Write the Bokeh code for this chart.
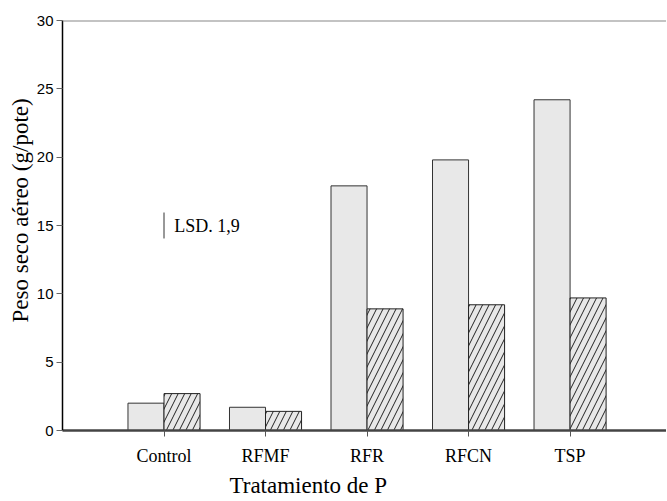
import numpy as np
from bokeh.plotting import figure
from bokeh.models import ColumnDataSource, FixedTicker, Span, Label, Title
from bokeh.embed import file_html
from bokeh.resources import INLINE

categories = ["Control", "RFMF", "RFR", "RFCN", "TSP"]
series_plain = [2.0, 1.7, 17.9, 19.8, 24.2]
series_hatched = [2.7, 1.4, 8.9, 9.2, 9.7]
y_ticks = [0, 5, 10, 15, 20, 25, 30]
lsd_value = 1.9
lsd_text = "LSD. 1,9"
x_title = "Tratamiento de P"
y_title = "Peso seco aéreo (g/pote)"

pos = np.arange(1, len(categories) + 1)
bw = 0.355

p = figure(width=666, height=500, x_range=(0, 5.95), y_range=(0, 30),
           output_backend="svg", toolbar_location=None,
           min_border_left=62, min_border_right=0, min_border_top=20,
           min_border_bottom=70)
p.outline_line_color = None
p.xgrid.visible = False
p.ygrid.visible = False
p.background_fill_color = "white"

src1 = ColumnDataSource(dict(x=pos - bw / 2, top=series_plain))
src2 = ColumnDataSource(dict(x=pos + bw / 2, top=series_hatched))
p.vbar(x="x", top="top", bottom=0, width=bw, source=src1,
       fill_color="#e8e8e8", line_color="#333333", line_width=1)
p.vbar(x="x", top="top", bottom=0, width=bw, source=src2,
       fill_color="#e8e8e8", line_color="#222222", line_width=1,
       hatch_pattern="/", hatch_color="#222222", hatch_scale=13, hatch_weight=1)

# top border line
p.add_layout(Span(location=30, dimension="width", line_color="#888888", line_width=2))

# LSD annotation
p.segment(x0=[1.0], y0=[15 - lsd_value / 2], x1=[1.0], y1=[15 + lsd_value / 2],
          line_color="#333333", line_width=1)
p.add_layout(Label(x=1.1, y=15, text=lsd_text, text_font="Liberation Serif",
                   text_font_size="18px", text_baseline="middle", text_align="left",
                   text_color="black"))

# x axis
xa = p.xaxis[0]
xa.ticker = FixedTicker(ticks=list(pos))
xa.major_label_overrides = {int(i): c for i, c in zip(pos, categories)}
xa.minor_tick_line_color = None
xa.major_tick_in = 0
xa.major_tick_out = 6
xa.major_tick_line_color = "#555555"
xa.axis_line_color = "#444444"
xa.axis_line_width = 2.5
xa.major_label_text_font = "Liberation Serif"
xa.major_label_text_font_size = "18px"
xa.major_label_text_color = "black"
xa.major_label_standoff = 9

# y axis
ya = p.yaxis[0]
ya.ticker = FixedTicker(ticks=y_ticks)
ya.minor_tick_line_color = None
ya.major_tick_in = 0
ya.major_tick_out = 6
ya.major_tick_line_color = "#666666"
ya.axis_line_color = "black"
ya.axis_line_width = 1.5
ya.major_label_text_font = "Liberation Sans"
ya.major_label_text_font_size = "15px"
ya.major_label_text_color = "black"
ya.major_label_standoff = 3

# axis titles as side titles (shifted like the reference)
p.add_layout(Title(text=x_title, align="left", offset=167, standoff=5,
                   text_font="Liberation Serif", text_font_size="23px",
                   text_font_style="normal", text_color="black"), "below")
p.add_layout(Title(text=y_title, align="left", offset=108, standoff=2,
                   text_font="Liberation Serif", text_font_size="23px",
                   text_font_style="normal", text_color="black"), "left")

open("out.html", "w").write(file_html(p, INLINE))
